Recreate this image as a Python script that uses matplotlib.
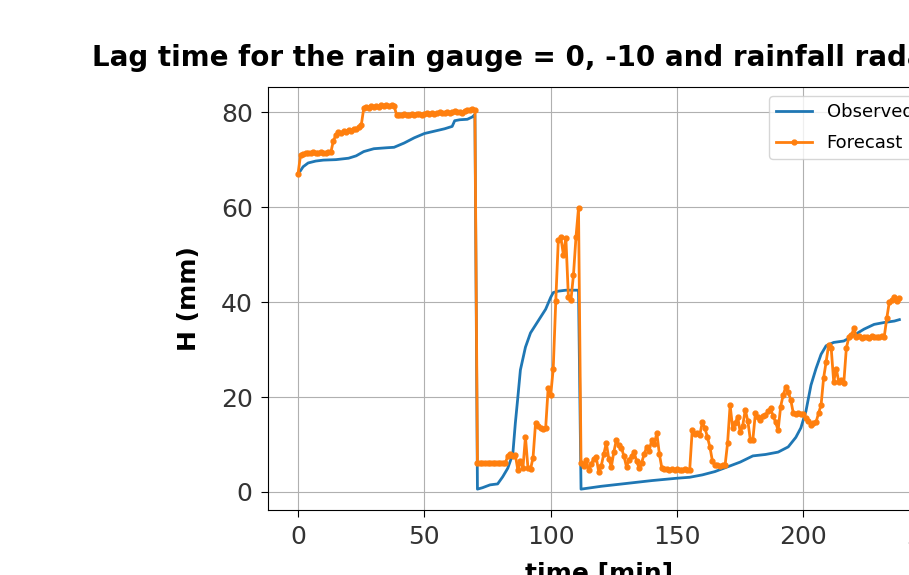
import matplotlib
matplotlib.use("Agg")
import matplotlib.pyplot as plt

# observed water level (breakpoints of the line)
t_obs = [0, 2, 4, 7, 10, 15, 20, 23, 26, 30, 35, 38, 42, 46, 50, 54, 58, 61, 62, 64, 67, 69, 70,
         71, 73, 76, 79, 81, 83, 85, 86, 87, 88, 90, 92, 95, 98, 100, 101, 103, 106, 111,
         112, 120, 130, 140, 150, 155, 160, 165, 170, 175, 180, 185,
         190, 194, 197, 199, 201, 203, 205, 207, 209, 212, 216, 220, 224, 228, 232, 236, 238]
h_obs = [66.9, 68.5, 69.3, 69.7, 69.9, 70.0, 70.3, 70.8, 71.7, 72.3, 72.5, 72.6, 73.5, 74.6, 75.5,
         76.0, 76.5, 77.0, 78.2, 78.4, 78.5, 79.0, 79.5,
         0.6, 0.9, 1.5, 1.7, 3.2, 5.0, 8.0, 14.5, 20.0, 25.7, 30.5, 33.5, 36.0, 38.5, 41.0, 42.0,
         42.3, 42.5, 42.5,
         0.6, 1.2, 1.8, 2.4, 2.9, 3.1, 3.6, 4.3, 5.3, 6.3, 7.6, 7.9,
         8.4, 9.5, 11.5, 13.5, 17.0, 22.5, 26.0, 29.0, 30.8, 31.5, 31.8, 33.0, 34.3, 35.3,
         35.7, 36.0, 36.3]

# forecast, one value per minute from t = 0
h_fc = [
    67.0, 71.0, 71.2, 71.3, 71.5, 71.4, 71.6, 71.5, 71.3, 71.6,
    71.5, 71.4, 71.7, 71.6, 74.0, 75.2, 75.8, 75.6, 76.0, 75.9,
    76.3, 76.1, 76.5, 76.4, 76.8, 77.2, 80.8, 81.0, 80.9, 81.2,
    81.0, 81.3, 81.1, 81.5, 81.4, 81.6, 81.3, 81.5, 81.4, 79.4,
    79.5, 79.4, 79.6, 79.5, 79.4, 79.6, 79.5, 79.7, 79.6, 79.5,
    79.7, 79.8, 79.6, 79.9, 79.7, 79.8, 80.0, 79.8, 79.9, 80.1,
    79.9, 80.0, 80.2, 80.0, 80.1, 79.9, 80.3, 80.5, 80.4, 80.6,
    80.5, 6.1, 6.0, 6.1, 6.0, 6.1, 6.2, 6.0, 6.1, 6.0,
    6.1, 6.2, 6.0, 7.6, 7.9, 7.5, 7.8, 4.6, 6.5, 5.0,
    11.6, 5.0, 4.8, 7.2, 14.5, 13.8, 13.5, 13.2, 13.5, 22.0,
    20.4, 26.0, 40.2, 53.0, 53.7, 50.0, 53.5, 41.0, 40.4, 45.7,
    53.7, 59.8, 6.1, 5.5, 6.7, 4.6, 5.8, 7.0, 7.4, 4.2,
    5.5, 8.0, 10.3, 7.0, 5.3, 8.5, 11.0, 9.8, 9.3, 7.5,
    5.3, 6.8, 7.5, 8.4, 6.5, 5.0, 6.2, 8.0, 9.5, 8.7,
    11.0, 10.2, 12.4, 8.0, 5.0, 4.8, 4.9, 4.7, 4.8, 4.6,
    4.8, 4.7, 4.6, 4.8, 4.7, 4.6, 13.0, 12.3, 12.5, 12.0,
    14.7, 13.5, 11.6, 9.5, 6.5, 5.7, 5.6, 5.5, 5.7, 5.6,
    10.3, 18.3, 13.5, 14.5, 15.8, 12.6, 14.0, 17.3, 15.0, 11.0,
    11.0, 16.6, 15.8, 15.2, 16.0, 16.2, 17.0, 17.7, 16.0, 14.7,
    13.0, 18.0, 20.4, 22.1, 21.0, 19.4, 16.6, 16.5, 16.6, 16.4,
    16.5, 15.6, 15.0, 14.1, 14.5, 14.7, 16.6, 18.3, 24.0, 27.4,
    31.0, 30.3, 23.2, 26.0, 23.2, 23.5, 23.0, 30.3, 32.6, 33.0,
    34.5, 32.6, 32.8, 32.5, 32.7, 32.6, 32.5, 32.8, 32.6, 32.7,
    32.6, 32.8, 32.7, 36.6, 40.0, 40.5, 41.0, 40.2, 40.8,
]
t_fc = list(range(len(h_fc)))

title = "Lag time for the rain gauge = 0, -10 and rainfall radar = 0, -10"

fig = plt.figure(figsize=(9.09, 5.75), dpi=100)
ax = fig.add_axes([0.2948, 0.113, 0.728, 0.7357])

ax.plot(t_obs, h_obs, color="tab:blue", label="Observed", linewidth=2)
ax.plot(t_fc, h_fc, color="tab:orange", marker="o", markersize=3.5,
        label="Forecast", linewidth=2)

ax.set_xlim(-11.9, 243)
ax.set_ylim(-3.8, 85.3)
ax.set_xticks([0, 50, 100, 150, 200, 250])
ax.set_yticks([0, 20, 40, 60, 80])
ax.tick_params(labelsize=18, labelcolor="#333333", length=5, pad=6)

# title is wider than the visible canvas; pin its left edge like the original
ax.set_title(title, fontsize=20, fontweight="bold", pad=15, loc="left", x=-0.266)
ax.set_xlabel("time [min]", fontsize=18, fontweight="bold", labelpad=9)
ax.set_ylabel("H (mm)", fontsize=18, fontweight="bold", labelpad=14)
ax.legend(loc="upper right", fontsize=13, labelspacing=0.7)
ax.grid(True)

fig.savefig("out.png", dpi=100)
